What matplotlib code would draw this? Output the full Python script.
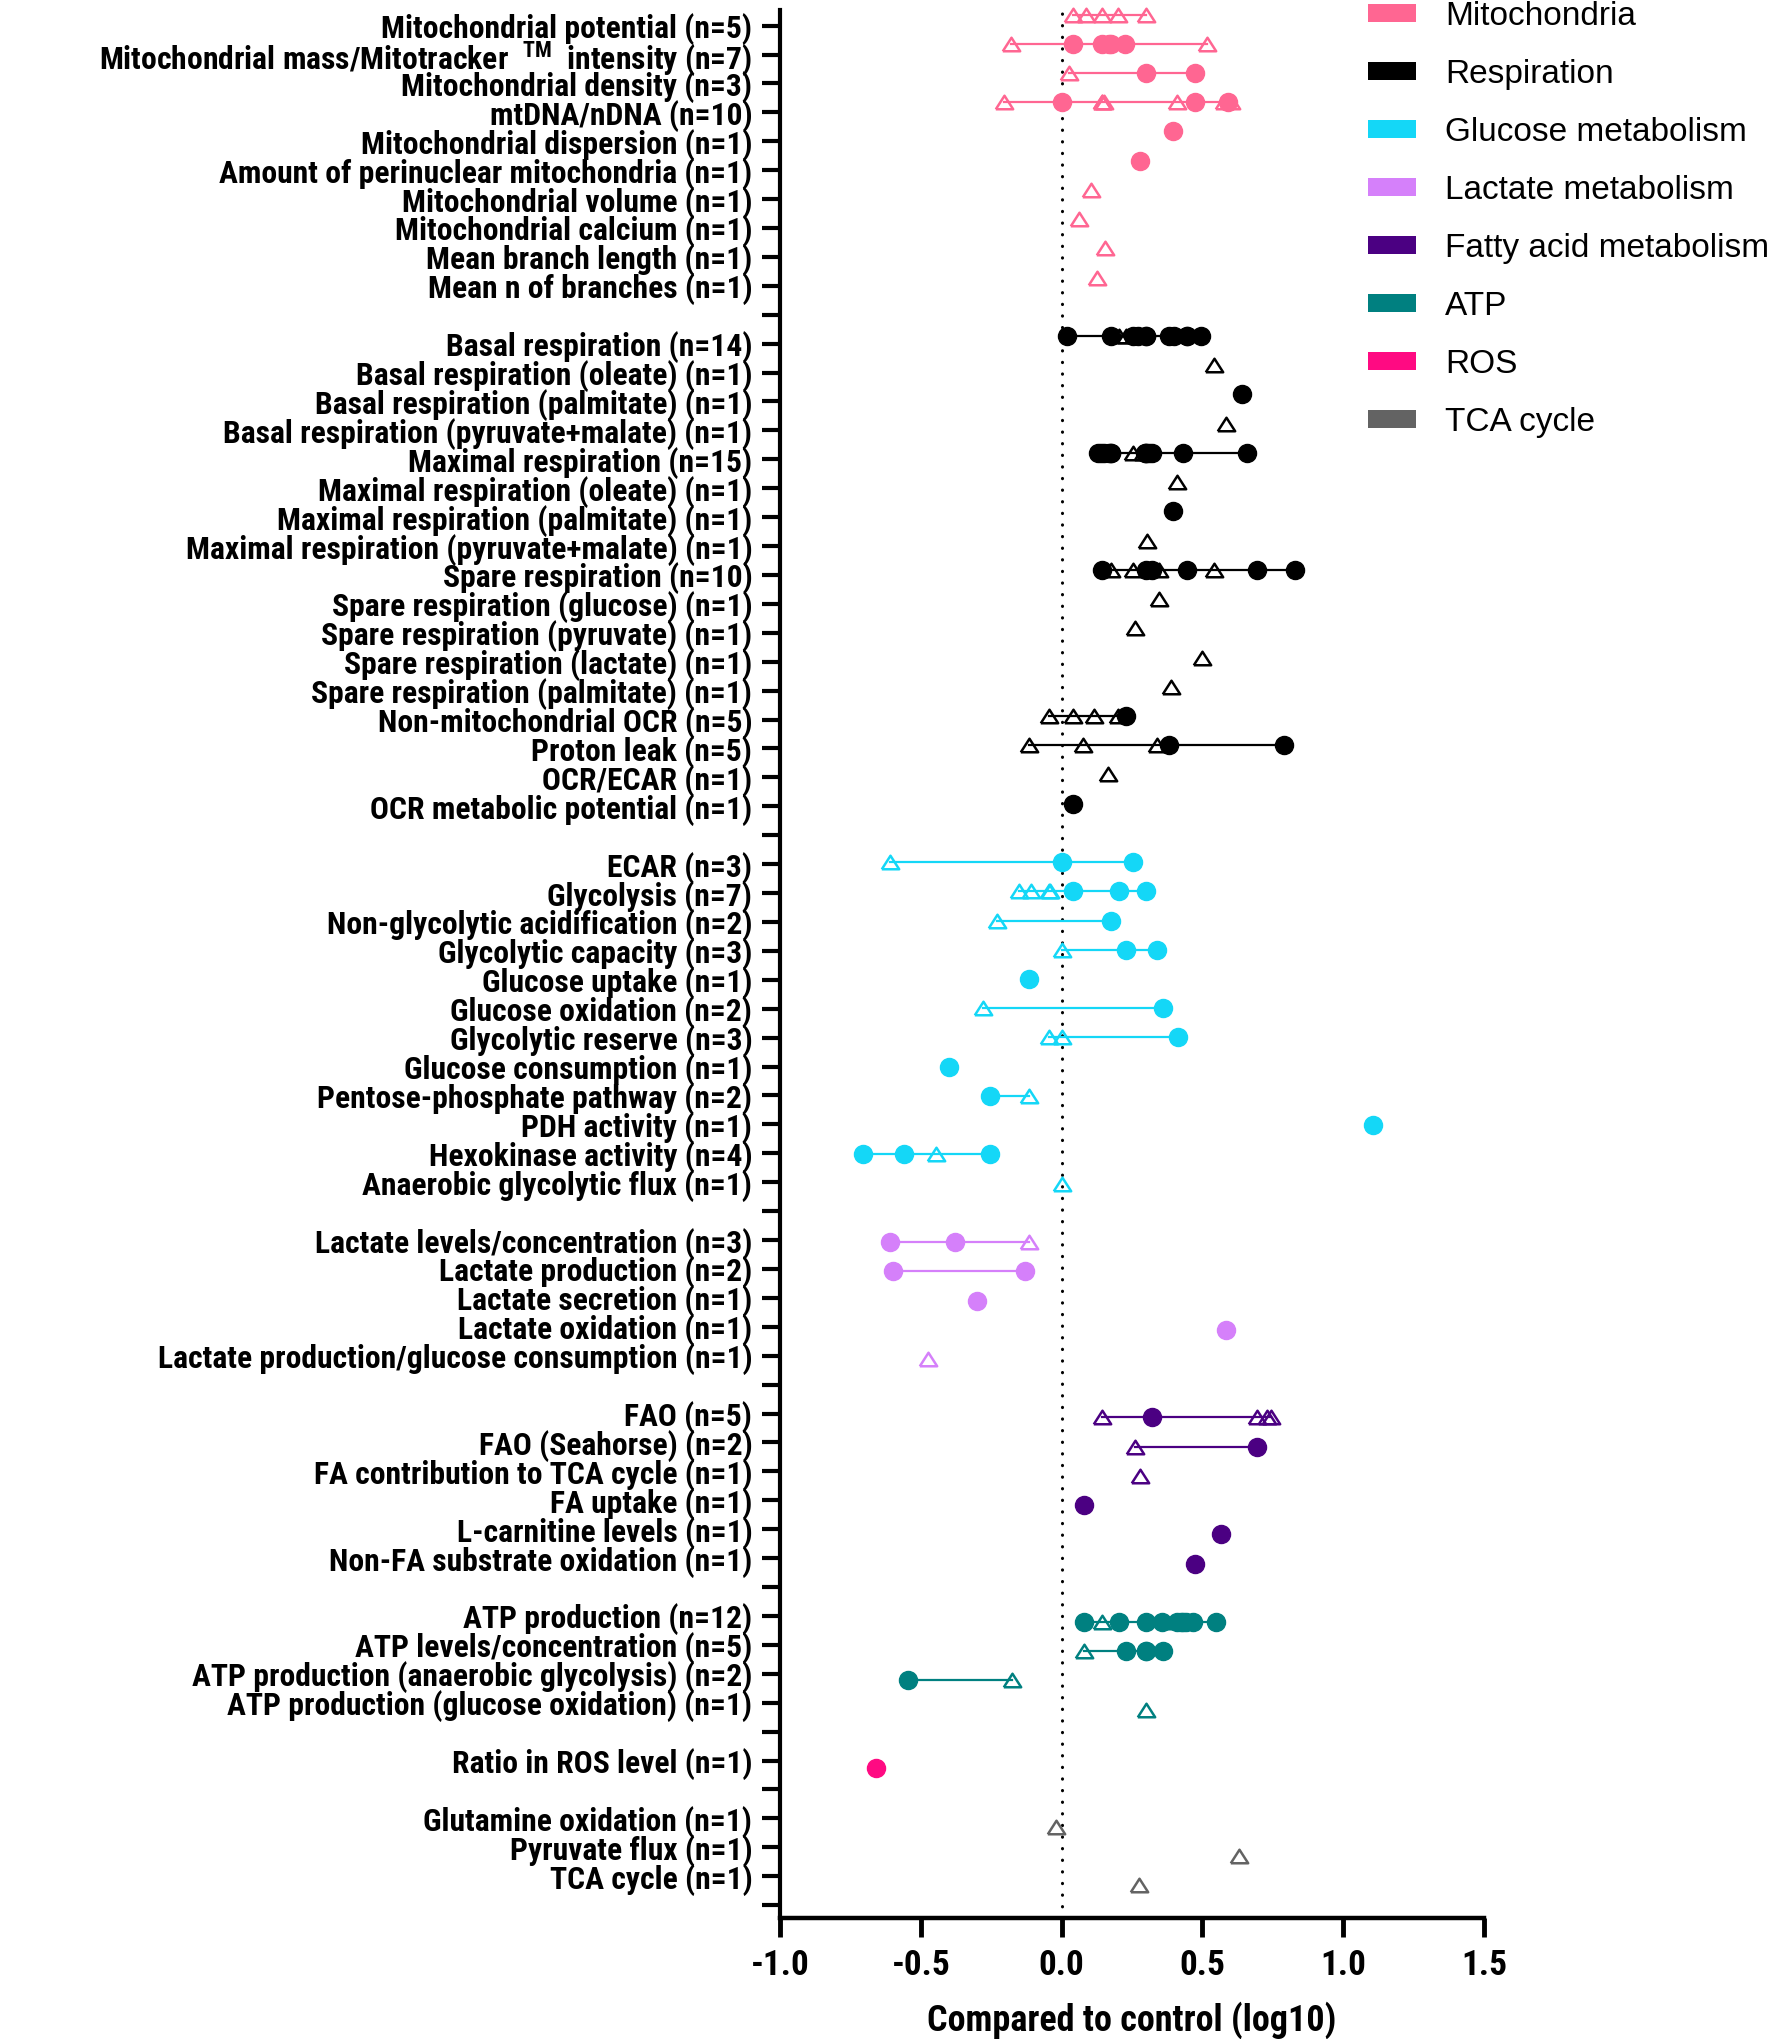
import numpy as np
import matplotlib.pyplot as plt
from matplotlib import font_manager as fm
from matplotlib.patches import Patch

# Buscar una fuente estrecha en negrita (como Arial Narrow del original)
narrow_names = ['Liberation Sans Narrow', 'Arial Narrow', 'Roboto Condensed',
                'DejaVu Sans Condensed', 'Open Sans Condensed']
cond_names = ['DejaVu Sans', 'Noto Sans', 'Open Sans', 'Roboto']
found = None
for name in narrow_names + cond_names:
    for f in fm.fontManager.ttflist:
        if f.name != name:
            continue
        if name in cond_names and f.stretch not in ('condensed', 'semi-condensed', 'extra-condensed'):
            continue
        if found is None or (int(f.weight) if str(f.weight).isdigit() else 700) >= 600:
            found = f
    if found is not None:
        break

if found is not None:
    plt.rcParams['font.family'] = [found.name, 'DejaVu Sans']
    plt.rcParams['font.stretch'] = found.stretch
    plt.rcParams['mathtext.rm'] = found.name
    fs_lab, fs_tick, fs_xlab = 22.8, 25.5, 26
else:
    plt.rcParams['font.family'] = ['Liberation Sans', 'DejaVu Sans']
    plt.rcParams['mathtext.rm'] = 'Liberation Sans'
    fs_lab, fs_tick, fs_xlab = 18.7, 19, 20
plt.rcParams['font.weight'] = 'bold'
plt.rcParams['axes.unicode_minus'] = False
plt.rcParams['mathtext.fontset'] = 'custom'

# Grupos y colores
group_names = ['Mitochondria', 'Respiration', 'Glucose metabolism', 'Lactate metabolism',
               'Fatty acid metabolism', 'ATP', 'ROS', 'TCA cycle']
group_colors = ['#FF6692', '#000000', '#14D7F7', '#D580FA',
                '#4B0082', '#008080', '#FF0A82', '#636363']

# Mitocondria
mito_labels = ['Mitochondrial potential (n=5)',
               r'Mitochondrial mass/Mitotracker  $^{\mathrm{TM}}$  intensity (n=7)',
               'Mitochondrial density (n=3)', 'mtDNA/nDNA (n=10)',
               'Mitochondrial dispersion (n=1)', 'Amount of perinuclear mitochondria (n=1)',
               'Mitochondrial volume (n=1)', 'Mitochondrial calcium (n=1)',
               'Mean branch length (n=1)', 'Mean n of branches (n=1)']
mito_filled = [[], [0.04, 0.145, 0.17, 0.175, 0.225], [0.30, 0.475], [0.0, 0.475, 0.59],
               [0.395], [0.28], [], [], [], []]
mito_open = [[0.04, 0.085, 0.145, 0.20, 0.30], [-0.18, 0.515], [0.025],
             [-0.205, 0.15, 0.145, 0.145, 0.41, 0.60, 0.575],
             [], [], [0.105], [0.06], [0.155], [0.125]]

# Respiracion
resp_labels = ['Basal respiration (n=14)', 'Basal respiration (oleate) (n=1)',
               'Basal respiration (palmitate) (n=1)', 'Basal respiration (pyruvate+malate) (n=1)',
               'Maximal respiration (n=15)', 'Maximal respiration (oleate) (n=1)',
               'Maximal respiration (palmitate) (n=1)', 'Maximal respiration (pyruvate+malate) (n=1)',
               'Spare respiration (n=10)', 'Spare respiration (glucose) (n=1)',
               'Spare respiration (pyruvate) (n=1)', 'Spare respiration (lactate) (n=1)',
               'Spare respiration (palmitate) (n=1)', 'Non-mitochondrial OCR (n=5)',
               'Proton leak (n=5)', 'OCR/ECAR (n=1)', 'OCR metabolic potential (n=1)']
resp_filled = [[0.02, 0.175, 0.255, 0.27, 0.30, 0.30, 0.38, 0.40, 0.445, 0.445, 0.495],
               [], [0.64], [],
               [0.13, 0.14, 0.15, 0.17, 0.175, 0.175, 0.295, 0.30, 0.30, 0.31, 0.32, 0.43, 0.66],
               [], [0.395], [],
               [0.145, 0.30, 0.32, 0.445, 0.695, 0.83],
               [], [], [], [], [0.23], [0.38, 0.79], [], [0.04]]
resp_open = [[0.205, 0.23, 0.28], [0.54], [], [0.585],
             [0.255, 0.29], [0.41], [], [0.305],
             [0.175, 0.255, 0.345, 0.54], [0.345], [0.26], [0.50], [0.39],
             [-0.045, 0.04, 0.115, 0.20], [-0.115, 0.075, 0.34], [0.165], []]

# Glucosa
gluc_labels = ['ECAR (n=3)', 'Glycolysis (n=7)', 'Non-glycolytic acidification (n=2)',
               'Glycolytic capacity (n=3)', 'Glucose uptake (n=1)', 'Glucose oxidation (n=2)',
               'Glycolytic reserve (n=3)', 'Glucose consumption (n=1)',
               'Pentose-phosphate pathway (n=2)', 'PDH activity (n=1)',
               'Hexokinase activity (n=4)', 'Anaerobic glycolytic flux (n=1)']
gluc_filled = [[0.0, 0.255], [0.04, 0.205, 0.30], [0.175], [0.23, 0.34], [-0.115], [0.36],
               [0.415], [-0.40], [-0.255], [1.105], [-0.705, -0.56, -0.255], []]
gluc_open = [[-0.61], [-0.15, -0.11, -0.045, -0.04], [-0.23], [0.0], [], [-0.28],
             [-0.045, 0.0], [], [-0.115], [], [-0.445], [0.0]]

# Lactato
lact_labels = ['Lactate levels/concentration (n=3)', 'Lactate production (n=2)',
               'Lactate secretion (n=1)', 'Lactate oxidation (n=1)',
               'Lactate production/glucose consumption (n=1)']
lact_filled = [[-0.61, -0.38], [-0.60, -0.13], [-0.30], [0.585], []]
lact_open = [[-0.115], [], [], [], [-0.475]]

# Acidos grasos
fa_labels = ['FAO (n=5)', 'FAO (Seahorse) (n=2)', 'FA contribution to TCA cycle (n=1)',
             'FA uptake (n=1)', 'L-carnitine levels (n=1)', 'Non-FA substrate oxidation (n=1)']
fa_filled = [[0.32], [0.695], [], [0.08], [0.565], [0.475]]
fa_open = [[0.145, 0.695, 0.745, 0.73], [0.26], [0.28], [], [], []]

# ATP
atp_labels = ['ATP production (n=12)', 'ATP levels/concentration (n=5)',
              'ATP production (anaerobic glycolysis) (n=2)',
              'ATP production (glucose oxidation) (n=1)']
atp_filled = [[0.08, 0.205, 0.30, 0.355, 0.41, 0.425, 0.43, 0.44, 0.465, 0.55],
              [0.23, 0.30, 0.30, 0.36], [-0.545], []]
atp_open = [[0.145, 0.40], [0.08], [-0.175], [0.30]]

# ROS
ros_labels = ['Ratio in ROS level (n=1)']
ros_filled = [[-0.66]]
ros_open = [[]]

# Ciclo TCA
tca_labels = ['Glutamine oxidation (n=1)', 'Pyruvate flux (n=1)', 'TCA cycle (n=1)']
tca_filled = [[], [], []]
tca_open = [[-0.02], [0.63], [0.275]]

groups = [(mito_labels, mito_filled, mito_open), (resp_labels, resp_filled, resp_open),
          (gluc_labels, gluc_filled, gluc_open), (lact_labels, lact_filled, lact_open),
          (fa_labels, fa_filled, fa_open), (atp_labels, atp_filled, atp_open),
          (ros_labels, ros_filled, ros_open), (tca_labels, tca_filled, tca_open)]

# triangulo abierto algo achatado
tri = [(-1, -0.78), (1, -0.78), (0, 0.78), (-1, -0.78)]

fig = plt.figure(figsize=(17.7, 20.39), dpi=100)
ax = fig.add_axes([0.4407, 0.0593, 0.3977, 0.9358])
# eje gemelo solo para las etiquetas (en el original van en una rejilla algo mas apretada)
lab = ax.twinx()

ax.axvline(0, color='black', lw=2.2, linestyle=(0, (0.1, 3.7)),
           dash_capstyle='round', zorder=1)

tick_names = []
row = 0
for gi, (labels, filled, opened) in enumerate(groups):
    c = group_colors[gi]
    for k, name in enumerate(labels):
        vals = filled[k] + opened[k]
        if len(vals) > 1:
            ax.plot([min(vals), max(vals)], [row, row], color=c, lw=1.6, zorder=2)
        if filled[k]:
            ax.plot(filled[k], [row] * len(filled[k]), 'o', ms=13, color=c,
                    zorder=3, clip_on=False)
        if opened[k]:
            ax.plot(opened[k], [row] * len(opened[k]), linestyle='none', marker=tri,
                    ms=12.5, mfc='none', mec=c, mew=1.8, zorder=3, clip_on=False)
        tick_names.append(name)
        row += 1
    tick_names.append('')
    row += 1

ax.set_xlim(-1.0, 1.5)
ax.set_ylim(65.13, -0.156)
lab.set_ylim(65.45, -0.54)

ax.set_xticks([-1.0, -0.5, 0.0, 0.5, 1.0, 1.5])
ax.set_xticklabels(['%.1f' % t for t in ax.get_xticks()])
ax.set_yticks([])
ax.tick_params(axis='x', length=14, width=3.5, pad=8, labelsize=fs_tick)
ax.set_xlabel('Compared to control (log10)', fontsize=fs_xlab, fontweight='bold', labelpad=14)

lab.yaxis.tick_left()
lab.set_yticks(np.arange(len(tick_names)))
lab.set_yticklabels(tick_names)
lab.tick_params(axis='y', length=13, width=3, pad=7, labelsize=fs_lab)

for s in ['top', 'right', 'left']:
    ax.spines[s].set_visible(False)
ax.spines['bottom'].set_linewidth(3.2)
for s in ['top', 'right', 'bottom']:
    lab.spines[s].set_visible(False)
lab.spines['left'].set_linewidth(3)

# Leyenda
handles = [Patch(facecolor=c, edgecolor='none', label=n) for n, c in zip(group_names, group_colors)]
fig.legend(handles=handles, loc='upper left', bbox_to_anchor=(0.7729, 0.9995),
           frameon=False, handlelength=1.45, handleheight=0.48, handletextpad=0.87,
           labelspacing=0.81, borderpad=0, borderaxespad=0,
           prop={'family': 'Liberation Sans', 'weight': 'normal', 'size': 24})

fig.savefig('out.png', dpi=100)
